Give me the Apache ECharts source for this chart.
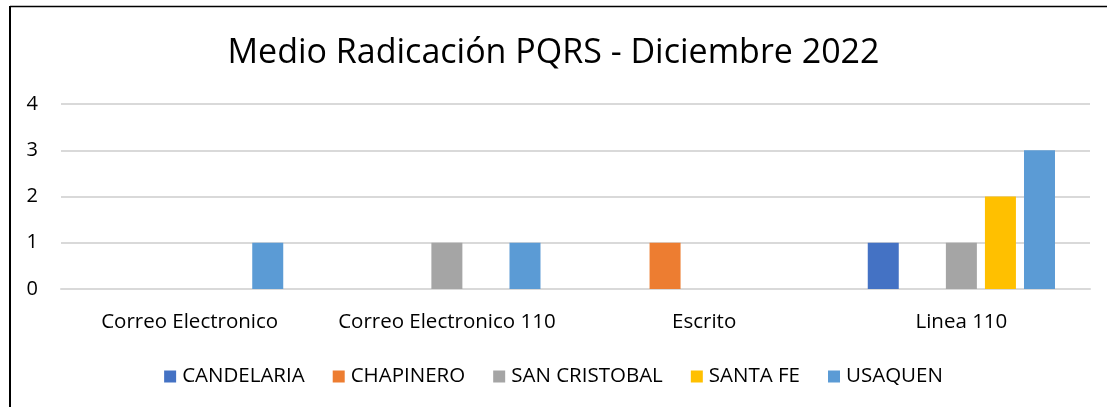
<!DOCTYPE html>
<html>
<head>
<meta charset="utf-8">
<script src="https://cdn.jsdelivr.net/npm/echarts@6/dist/echarts.min.js"></script>
<style>
html,body{margin:0;padding:0;background:#fff;}
#c{width:1107px;height:407px;}
</style>
</head>
<body>
<div id="c"></div>
<script>
const categories = ['Correo Electronico', 'Correo Electronico 110', 'Escrito', 'Linea 110'];
const seriesNames = ['CANDELARIA', 'CHAPINERO', 'SAN CRISTOBAL', 'SANTA FE', 'USAQUEN'];
const candelaria = [null, null, null, 1];
const chapinero = [null, null, 1, null];
const sanCristobal = [null, 1, null, 1];
const santaFe = [null, null, null, 2];
const usaquen = [1, 1, null, 3];
const colors = ['#4472C4', '#ED7D31', '#A5A5A5', '#FFC000', '#5B9BD5'];
const yTicks = [0, 1, 2, 3, 4];

const values = [candelaria, chapinero, sanCristobal, santaFe, usaquen];
const font = 'Open Sans, sans-serif';

const chart = echarts.init(document.getElementById('c'), null, {renderer: 'canvas'});
chart.setOption({
  animation: false,
  backgroundColor: '#fff',
  title: {
    text: 'Medio Radicación PQRS - Diciembre 2022',
    left: 'center',
    top: 31,
    textStyle: {fontFamily: font, fontSize: 34, fontWeight: 'normal', color: '#000'}
  },
  grid: {left: 61, right: 17, top: 104, bottom: 118},
  legend: {
    bottom: 15,
    left: 'center',
    itemWidth: 12,
    itemHeight: 12,
    itemGap: 28,
    icon: 'rect',
    textStyle: {fontFamily: font, fontSize: 20.5, color: '#000', padding: [0, 0, 0, 1]},
    data: seriesNames
  },
  xAxis: {
    type: 'category',
    data: categories,
    axisLine: {show: true, lineStyle: {color: '#d9d9d9', width: 2}},
    axisTick: {show: false},
    axisLabel: {fontFamily: font, fontSize: 20.5, color: '#000', margin: 23, interval: 0}
  },
  yAxis: {
    type: 'value',
    min: yTicks[0],
    max: yTicks[yTicks.length - 1],
    interval: 1,
    axisLine: {show: false},
    axisTick: {show: false},
    splitLine: {lineStyle: {color: '#d9d9d9', width: 2}},
    axisLabel: {fontFamily: font, fontSize: 20, color: '#000', margin: 23}
  },
  graphic: [
    {type: 'line', shape: {x1: 10, y1: 6.5, x2: 1107, y2: 6.5}, style: {stroke: '#000', lineWidth: 1.5}},
    {type: 'line', shape: {x1: 10, y1: 6, x2: 10, y2: 407}, style: {stroke: '#000', lineWidth: 2}}
  ],
  series: seriesNames.map((n, i) => ({
    name: n,
    type: 'bar',
    data: values[i],
    barWidth: 31,
    barGap: '26%',
    itemStyle: {color: colors[i]}
  }))
});
</script>
</body>
</html>
